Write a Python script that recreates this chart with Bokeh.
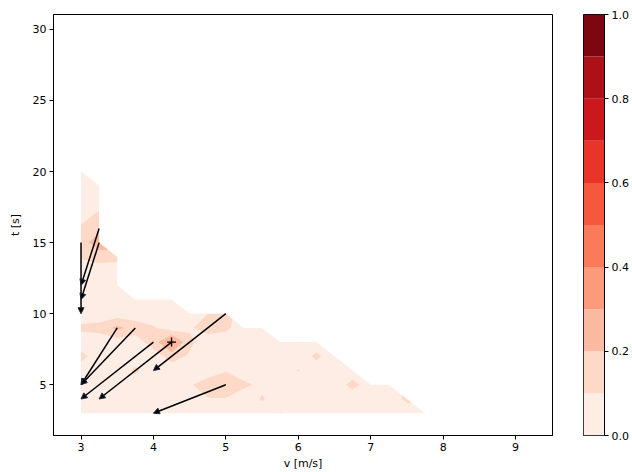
import numpy as np
from bokeh.plotting import figure
from bokeh.models import Range1d, FixedTicker, Arrow, NormalHead, ColumnDataSource, PrintfTickFormatter
from bokeh.layouts import row
from bokeh.embed import file_html
from bokeh.resources import INLINE

# ---- grid of the contour field ----
v_grid = [3.0, 3.25, 3.5, 3.75, 4.0, 4.25, 4.5, 4.75, 5.0, 5.25,
          5.5, 5.75, 6.0, 6.25, 6.5, 6.75, 7.0, 7.25, 7.5, 7.75]
t_grid = [3, 4, 5, 6, 7, 8, 9, 10, 11, 12, 13, 14, 15, 16, 17, 18, 19, 20]
# highest valid t for each v column
t_max = [20, 19, 14, 11, 11, 11, 10, 10, 10, 9,
         9, 8, 8, 8, 7, 6, 5, 5, 4, 3]
base_value = 0.05
# cells that stand out from the base level
hot_v = [3.0, 3.0, 3.0, 3.25, 3.25, 3.25, 3.25, 3.5,
         3.0, 3.25, 3.5, 3.75, 4.0, 4.0, 4.25, 4.5, 4.25, 4.5,
         3.0, 3.75,
         4.75, 5.0, 5.0, 4.75, 4.5,
         4.5, 4.75, 5.0, 5.25, 5.5, 5.0, 4.75, 5.0,
         6.25, 6.0, 6.75, 7.5, 5.5, 5.75]
hot_t = [14, 15, 16, 14, 15, 16, 17, 14,
         9, 9, 9, 9, 9, 8, 8, 8, 7, 7,
         7, 6,
         9, 10, 9, 10, 9,
         5, 5, 5, 5, 5, 6, 4, 4,
         7, 6, 5, 4, 4, 3]
hot_z = [0.11, 0.15, 0.12, 0.14, 0.27, 0.17, 0.12, 0.13,
         0.12, 0.13, 0.23, 0.15, 0.11, 0.15, 0.36, 0.12, 0.14, 0.09,
         0.13, 0.12,
         0.14, 0.13, 0.12, 0.10, 0.09,
         0.09, 0.15, 0.16, 0.12, 0.08, 0.095, 0.095, 0.095,
         0.12, 0.105, 0.13, 0.12, 0.11, 0.105]

levels = [0.0, 0.1, 0.2, 0.3, 0.4, 0.5, 0.6, 0.7, 0.8, 0.9, 1.0]
colors = ["#feede4", "#fed9c8", "#fcbba1", "#fc9b7c", "#fb7a5a",
          "#f6583e", "#e83429", "#ca181d", "#ac1117", "#7e0610"]

# ---- arrows ----
arrow_v0 = [3.0, 3.25, 3.25, 3.5, 3.75, 4.0, 4.25, 5.0, 5.0]
arrow_t0 = [15, 16, 15, 9, 9, 8, 8, 10, 5]
arrow_v1 = [3.0, 3.0, 3.0, 3.0, 3.0, 3.0, 3.25, 4.0, 4.0]
arrow_t1 = [10, 12, 11, 5, 5, 4, 4, 6, 3]
marker_v = [4.25]
marker_t = [8]

x_ticks = [3, 4, 5, 6, 7, 8, 9]
y_ticks = [5, 10, 15, 20, 25, 30]
cb_ticks = [0.0, 0.2, 0.4, 0.6, 0.8, 1.0]

FONT = "DejaVu Sans"
FS = "11px"

# build the field
Z = np.full((len(t_grid), len(v_grid)), np.nan)
for j, tm in enumerate(t_max):
    for i, t in enumerate(t_grid):
        if t <= tm:
            Z[i, j] = base_value
for hv, ht, hz in zip(hot_v, hot_t, hot_z):
    Z[t_grid.index(ht), v_grid.index(hv)] = hz

p = figure(width=560, height=472, x_range=Range1d(2.62, 9.51), y_range=Range1d(1.43, 31.05),
           min_border_left=53, min_border_right=8, min_border_top=13, min_border_bottom=35,
           toolbar_location=None, output_backend="svg")
p.grid.visible = False
p.outline_line_color = "black"
p.outline_line_width = 1
p.background_fill_color = "white"
p.border_fill_color = "white"

p.contour(np.array(v_grid), np.array(t_grid, dtype=float), Z, levels, fill_color=colors)

src = ColumnDataSource(dict(x0=arrow_v0, y0=arrow_t0, x1=arrow_v1, y1=arrow_t1))
p.add_layout(Arrow(source=src, x_start="x0", y_start="y0", x_end="x1", y_end="y1",
                   line_color="black", line_width=1.5,
                   end=NormalHead(size=6, fill_color="black", line_color="#1a2a3a", line_width=1)))
p.scatter(marker_v, marker_t, marker="cross", size=9, line_color="black", line_width=1.3)

for ax in (p.xaxis, p.yaxis):
    ax.major_tick_out = 4
    ax.major_tick_in = 0
    ax.minor_tick_out = 0
    ax.minor_tick_in = 0
    ax.axis_line_color = "black"
    ax.major_tick_line_color = "black"
    ax.major_label_text_font = FONT
    ax.major_label_text_font_size = FS
    ax.major_label_text_color = "black"
    ax.axis_label_text_font = FONT
    ax.axis_label_text_font_size = FS
    ax.axis_label_text_font_style = "normal"
    ax.axis_label_text_color = "black"
    ax.major_label_standoff = 3
p.xaxis.ticker = FixedTicker(ticks=x_ticks)
p.yaxis.ticker = FixedTicker(ticks=y_ticks)
p.xaxis.axis_label = "v [m/s]"
p.yaxis.axis_label = "t [s]"
p.xaxis.axis_label_standoff = 3
p.yaxis.axis_label_standoff = 8

# ---- colour bar ----
cb = figure(width=72, height=472, x_range=Range1d(0, 1), y_range=Range1d(0, 1),
            min_border_left=23, min_border_right=28, min_border_top=14, min_border_bottom=35,
            toolbar_location=None, output_backend="svg", y_axis_location="right",
            x_axis_location=None)
cb.grid.visible = False
cb.outline_line_color = "black"
cb.quad(left=0, right=1, bottom=levels[:-1], top=levels[1:], fill_color=colors, line_color=None)
cb.yaxis.ticker = FixedTicker(ticks=cb_ticks)
cb.yaxis.formatter = PrintfTickFormatter(format="%.1f")
cb.yaxis.major_tick_out = 4
cb.yaxis.major_tick_in = 0
cb.yaxis.minor_tick_out = 0
cb.yaxis.minor_tick_in = 0
cb.yaxis.axis_line_color = "black"
cb.yaxis.major_label_text_font = FONT
cb.yaxis.major_label_text_font_size = FS
cb.yaxis.major_label_text_color = "black"
cb.yaxis.major_label_standoff = 3

layout = row(p, cb)
open("out.html", "w").write(file_html(layout, INLINE))
